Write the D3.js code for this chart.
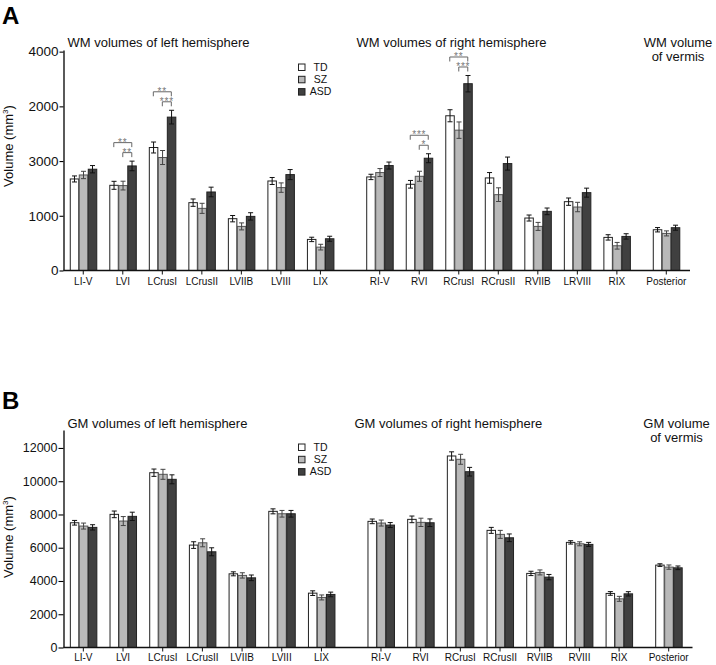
<!DOCTYPE html>
<html>
<head>
<meta charset="utf-8">
<script src="https://cdn.jsdelivr.net/npm/d3@7"></script>
<style>
  html, body { margin: 0; padding: 0; background: #fff; }
  svg { display: block; font-family: "Liberation Sans", Arial, sans-serif; }
</style>
</head>
<body>
<svg id="chart" width="716" height="665"></svg>
<script>
// ---------- DATA ----------
const series = ["TD", "SZ", "ASD"];

const wmCategories = ["LI-V","LVI","LCrusI","LCrusII","LVIIB","LVIII","LIX",
                      "RI-V","RVI","RCrusI","RCrusII","RVIIB","LRVIII","RIX","Posterior"];
const gmCategories = ["LI-V","LVI","LCrusI","LCrusII","LVIIB","LVIII","LIX",
                      "RI-V","RVI","RCrusI","RCrusII","RVIIB","RVIII","RIX","Posterior"];
// group of each category: 0 = left hemisphere, 1 = right hemisphere, 2 = vermis
const categoryGroups = [0,0,0,0,0,0,0, 1,1,1,1,1,1,1, 2];

// WM (panel A) values, in axis units
const wmTD  = [1673,1557,2248,1240,947,1636,568, 1710,1576,2828,1692,959,1258,605, 745];
const wmSZ  = [1746,1552,2065,1136,806,1515,427, 1790,1722,2565,1386,806,1160,452, 678];
const wmASD = [1851,1911,2803,1435,989,1753,580, 1918,2052,3414,1954,1081,1423,623, 782];
const wmTDerr  = [55,73,100,67,58,64,40, 49,70,110,98,55,67,49, 40];
const wmSZerr  = [67,80,128,92,64,86,52, 73,92,150,125,73,86,61, 46];
const wmASDerr = [67,88,125,88,67,92,46, 64,82,150,119,61,82,49, 46];

// GM (panel B) values
const gmTD  = [7502,8007,10512,6159,4431,8188,3269, 7586,7706,11517,7044,4455,6321,3251, 4955];
const gmSZ  = [7303,7604,10415,6297,4335,8043,3010, 7484,7526,11318,6803,4515,6237,2926, 4834];
const gmASD = [7224,7887,10114,5756,4190,8043,3191, 7363,7502,10572,6598,4232,6201,3227, 4792];
const gmTDerr  = [140,200,220,200,120,150,140, 140,200,250,180,130,100,110, 80];
const gmSZerr  = [180,270,300,240,160,200,150, 180,250,300,240,150,120,150,130];
const gmASDerr = [160,250,270,240,170,200,140, 150,230,260,230,160,120,130,110];

// y tick values and their printed labels (as printed in the original figure)
const wmTickValues = [0, 1000, 2000, 3000, 4000];
const wmTickLabels = ["0", "1000", "3000", "2000", "4000"];
const gmTickValues = [0, 2000, 4000, 6000, 8000, 10000, 12000];
const gmTickLabels = ["0", "2000", "4000", "6000", "8000", "10000", "12000"];

// significance brackets (panel A)
const wmSig = [
  {cat: "LVI",    from: "SZ", to: "ASD", label: "**",  level: 0},
  {cat: "LVI",    from: "TD", to: "ASD", label: "**",  level: 1},
  {cat: "LCrusI", from: "SZ", to: "ASD", label: "***", level: 0},
  {cat: "LCrusI", from: "TD", to: "ASD", label: "**",  level: 1},
  {cat: "RVI",    from: "SZ", to: "ASD", label: "*",   level: 0},
  {cat: "RVI",    from: "TD", to: "ASD", label: "***", level: 1},
  {cat: "RCrusI", from: "SZ", to: "ASD", label: "***", level: 0},
  {cat: "RCrusI", from: "TD", to: "ASD", label: "**",  level: 1}
];

const wmTitles = ["WM volumes of left hemisphere", "WM volumes of right hemisphere", ["WM volume", "of vermis"]];
const gmTitles = ["GM volumes of left hemisphere", "GM volumes of right hemisphere", ["GM volume", "of vermis"]];

// ---------- STYLE ----------
const fills   = {TD: "#ffffff", SZ: "#b9b9b9", ASD: "#404040"};
const strokes = {TD: "#222222", SZ: "#555555", ASD: "#222222"};
const errCol  = {TD: "#111111", SZ: "#444444", ASD: "#111111"};
const groupGap = [0, 0.5, 0.75];

const svg = d3.select("#chart");

function drawPanel(opt) {
  const g = svg.append("g");
  const rows = opt.categories.map((c, i) => ({
    cat: c, i,
    pos: i + groupGap[categoryGroups[i]],
    TD: opt.td[i], SZ: opt.sz[i], ASD: opt.asd[i],
    TDerr: opt.tdErr[i], SZerr: opt.szErr[i], ASDerr: opt.asdErr[i]
  }));

  const x = d3.scaleLinear().domain([-0.5, 15.35]).range([63.5, opt.xEnd]);
  const sub = d3.scaleBand().domain(series).range([-13.5, 13.5]).padding(0);
  const y = d3.scaleLinear().domain([0, opt.yMax]).range([opt.y0, opt.yTop]);

  // bars
  const cg = g.selectAll("g.cat").data(rows).join("g").attr("class", "cat")
    .attr("transform", d => `translate(${x(d.pos)},0)`);
  series.forEach(s => {
    cg.append("rect")
      .attr("x", sub(s) + 0.5)
      .attr("width", sub.bandwidth() - 0.5)
      .attr("y", d => y(d[s]))
      .attr("height", d => y(0) - y(d[s]))
      .attr("fill", fills[s])
      .attr("stroke", strokes[s])
      .attr("stroke-width", 1);
    // error bars
    const cx = sub(s) + sub.bandwidth() / 2 + 0.25;
    cg.append("line")
      .attr("x1", cx).attr("x2", cx)
      .attr("y1", d => y(d[s] + d[s + "err"]))
      .attr("y2", d => y(d[s] - d[s + "err"]))
      .attr("stroke", errCol[s]).attr("stroke-width", 1);
    [1, -1].forEach(sign => {
      cg.append("line")
        .attr("x1", cx - 2.5).attr("x2", cx + 2.5)
        .attr("y1", d => y(d[s] + sign * d[s + "err"]))
        .attr("y2", d => y(d[s] + sign * d[s + "err"]))
        .attr("stroke", errCol[s]).attr("stroke-width", 1);
    });
  });

  // significance brackets
  (opt.sig || []).forEach(b => {
    const r = rows.find(d => d.cat === b.cat);
    const top = d3.min(series, s => y(r[s] + r[s + "err"]));
    const ly = top - 8.5 - b.level * 10;
    const x1 = x(r.pos) + sub(b.from) + sub.bandwidth() / 2;
    const x2 = x(r.pos) + sub(b.to) + sub.bandwidth() / 2;
    g.append("path")
      .attr("d", `M${x1},${ly + 4.5}V${ly}H${x2}V${ly + 4.5}`)
      .attr("fill", "none").attr("stroke", "#666").attr("stroke-width", 1);
    g.append("text")
      .attr("x", (x1 + x2) / 2).attr("y", ly + 3)
      .attr("text-anchor", "middle")
      .attr("font-size", 10).attr("fill", "#777")
      .attr("letter-spacing", 0.8)
      .text(b.label);
  });

  // y axis
  const yAxis = d3.axisLeft(y)
    .tickValues(opt.tickValues)
    .tickFormat((d, i) => opt.tickLabels[i])
    .tickSize(opt.yTickSize).tickPadding(1).tickSizeOuter(0);
  const ya = g.append("g").attr("transform", "translate(63.5,0)").call(yAxis);
  ya.select(".domain").attr("stroke-width", 1.3);
  ya.selectAll(".tick line").attr("stroke-width", 1.1);
  ya.selectAll("text").attr("font-size", opt.yFont).attr("fill", "#111")
    .attr("font-family", "'Liberation Sans', Arial, sans-serif");

  // x axis
  const xa = g.append("g").attr("transform", `translate(0,${opt.y0})`);
  xa.append("line").attr("x1", 63.5).attr("x2", opt.xEnd)
    .attr("stroke", "#111").attr("stroke-width", 1.5);
  xa.selectAll("line.tk").data(rows).join("line").attr("class", "tk")
    .attr("x1", d => x(d.pos)).attr("x2", d => x(d.pos))
    .attr("y1", 0).attr("y2", 4).attr("stroke", "#111").attr("stroke-width", 1);
  xa.selectAll("text.xl").data(rows).join("text").attr("class", "xl")
    .attr("x", d => x(d.pos)).attr("y", opt.xLabelDy)
    .attr("text-anchor", "middle").attr("font-size", 10).attr("fill", "#111")
    .text(d => d.cat);

  // y title
  const yt = g.append("text")
    .attr("transform", `translate(13,${opt.yTitleY}) rotate(-90)`)
    .attr("text-anchor", "middle").attr("font-size", 13).attr("fill", "#111");
  yt.append("tspan").text("Volume (mm");
  yt.append("tspan").attr("font-size", 8).attr("dy", -5).text("3");
  yt.append("tspan").attr("dy", 5).text(")");

  // titles
  g.append("text").attr("x", 67.5).attr("y", opt.titleY).attr("font-size", 13).attr("fill", "#111").text(opt.titles[0]);
  g.append("text").attr("x", opt.rightTitleX).attr("y", opt.titleY).attr("font-size", 13).attr("fill", "#111").text(opt.titles[1]);
  opt.titles[2].forEach((t, k) => {
    g.append("text").attr("x", opt.vermisX).attr("y", opt.titleY - 0.5 + k * 14)
      .attr("text-anchor", "middle").attr("font-size", 13).attr("fill", "#111").text(t);
  });

  // legend
  const lg = g.append("g");
  series.forEach((s, k) => {
    const cy = opt.legendY + k * 12.3;
    lg.append("rect").attr("x", 298.5).attr("y", cy - 3).attr("width", 6.5).attr("height", 6.5)
      .attr("fill", fills[s]).attr("stroke", "#222").attr("stroke-width", 1);
    lg.append("text").attr("x", 320.5).attr("y", cy + 3.8)
      .attr("text-anchor", "middle").attr("font-size", 10.5).attr("fill", "#111").text(s);
  });

  // panel letter
  g.append("text").attr("x", 2).attr("y", opt.letterY).attr("font-size", 24)
    .attr("font-weight", "bold").attr("fill", "#000").text(opt.letter);
}

drawPanel({
  categories: wmCategories, td: wmTD, sz: wmSZ, asd: wmASD,
  tdErr: wmTDerr, szErr: wmSZerr, asdErr: wmASDerr,
  yMax: 4030, y0: 270.5, yTop: 50, xEnd: 690,
  tickValues: wmTickValues, tickLabels: wmTickLabels, yTickSize: 4, yFont: 13.5,
  xLabelDy: 14.5, yTitleY: 146, titles: wmTitles, titleY: 47,
  rightTitleX: 356.5, vermisX: 678, legendY: 67, letter: "A", letterY: 24,
  sig: wmSig
});

drawPanel({
  categories: gmCategories, td: gmTD, sz: gmSZ, asd: gmASD,
  tdErr: gmTDerr, szErr: gmSZerr, asdErr: gmASDerr,
  yMax: 13080, y0: 647.5, yTop: 430, xEnd: 692.5,
  tickValues: gmTickValues, tickLabels: gmTickLabels, yTickSize: 5, yFont: 12.5,
  xLabelDy: 13.5, yTitleY: 537, titles: gmTitles, titleY: 428,
  rightTitleX: 354.5, vermisX: 676.5, legendY: 447, letter: "B", letterY: 409,
  sig: []
});
</script>
</body>
</html>
